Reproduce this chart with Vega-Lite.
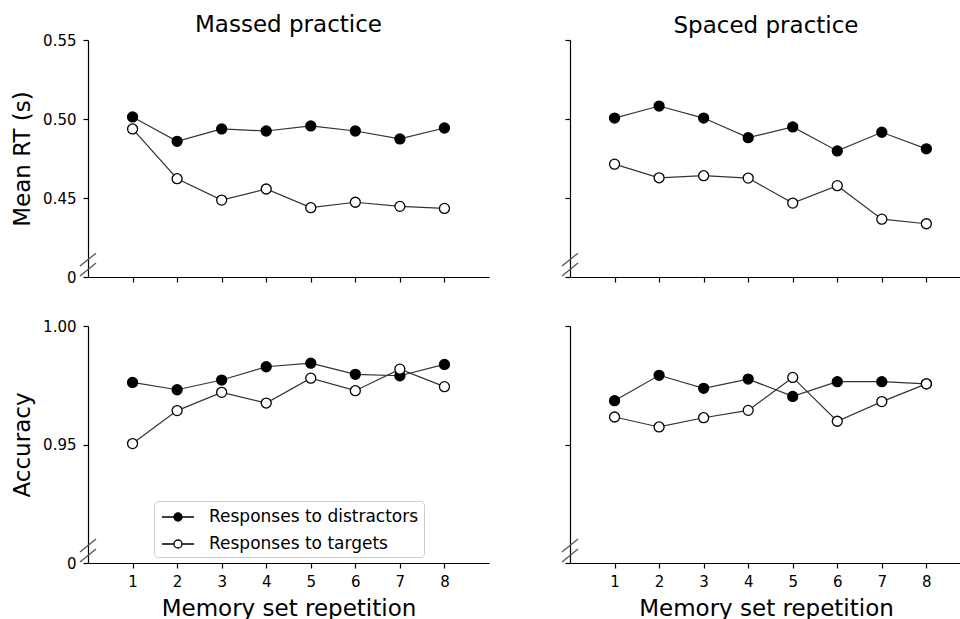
{
  "$schema": "https://vega.github.io/schema/vega-lite/v6.json",
  "padding": {"left": 11, "top": 14, "right": 0, "bottom": 0},
  "background": "white",
  "config": {
    "font": "DejaVu Sans",
    "view": {"stroke": null},
    "axis": {"domainColor": "black", "tickColor": "black", "labelColor": "black", "titleColor": "black", "grid": false, "labelFontSize": 15, "titleFontSize": 23, "titleFontWeight": "normal", "tickSize": 5, "domainWidth": 1.2, "tickWidth": 1.2, "labelFont": "DejaVu Sans", "titleFont": "DejaVu Sans"},
    "axisX": {"labelPadding": 6},
    "axisY": {"labelPadding": 7},
    "title": {"fontSize": 23, "fontWeight": "normal", "font": "DejaVu Sans", "color": "black"}
  },
  "datasets": {
    "d": [
      {"p": "Massed", "m": "RT", "s": "Responses to distractors", "rep": 1, "v": 0.5013},
      {"p": "Massed", "m": "RT", "s": "Responses to distractors", "rep": 2, "v": 0.4859},
      {"p": "Massed", "m": "RT", "s": "Responses to distractors", "rep": 3, "v": 0.4937},
      {"p": "Massed", "m": "RT", "s": "Responses to distractors", "rep": 4, "v": 0.4924},
      {"p": "Massed", "m": "RT", "s": "Responses to distractors", "rep": 5, "v": 0.4956},
      {"p": "Massed", "m": "RT", "s": "Responses to distractors", "rep": 6, "v": 0.4924},
      {"p": "Massed", "m": "RT", "s": "Responses to distractors", "rep": 7, "v": 0.4874},
      {"p": "Massed", "m": "RT", "s": "Responses to distractors", "rep": 8, "v": 0.4943},
      {"p": "Massed", "m": "RT", "s": "Responses to targets", "rep": 1, "v": 0.4937},
      {"p": "Massed", "m": "RT", "s": "Responses to targets", "rep": 2, "v": 0.4622},
      {"p": "Massed", "m": "RT", "s": "Responses to targets", "rep": 3, "v": 0.4487},
      {"p": "Massed", "m": "RT", "s": "Responses to targets", "rep": 4, "v": 0.4557},
      {"p": "Massed", "m": "RT", "s": "Responses to targets", "rep": 5, "v": 0.4439},
      {"p": "Massed", "m": "RT", "s": "Responses to targets", "rep": 6, "v": 0.4473},
      {"p": "Massed", "m": "RT", "s": "Responses to targets", "rep": 7, "v": 0.4447},
      {"p": "Massed", "m": "RT", "s": "Responses to targets", "rep": 8, "v": 0.4434},
      {"p": "Spaced", "m": "RT", "s": "Responses to distractors", "rep": 1, "v": 0.5006},
      {"p": "Spaced", "m": "RT", "s": "Responses to distractors", "rep": 2, "v": 0.5082},
      {"p": "Spaced", "m": "RT", "s": "Responses to distractors", "rep": 3, "v": 0.5006},
      {"p": "Spaced", "m": "RT", "s": "Responses to distractors", "rep": 4, "v": 0.4882},
      {"p": "Spaced", "m": "RT", "s": "Responses to distractors", "rep": 5, "v": 0.4950},
      {"p": "Spaced", "m": "RT", "s": "Responses to distractors", "rep": 6, "v": 0.4798},
      {"p": "Spaced", "m": "RT", "s": "Responses to distractors", "rep": 7, "v": 0.4916},
      {"p": "Spaced", "m": "RT", "s": "Responses to distractors", "rep": 8, "v": 0.4811},
      {"p": "Spaced", "m": "RT", "s": "Responses to targets", "rep": 1, "v": 0.4714},
      {"p": "Spaced", "m": "RT", "s": "Responses to targets", "rep": 2, "v": 0.4628},
      {"p": "Spaced", "m": "RT", "s": "Responses to targets", "rep": 3, "v": 0.4641},
      {"p": "Spaced", "m": "RT", "s": "Responses to targets", "rep": 4, "v": 0.4626},
      {"p": "Spaced", "m": "RT", "s": "Responses to targets", "rep": 5, "v": 0.4468},
      {"p": "Spaced", "m": "RT", "s": "Responses to targets", "rep": 6, "v": 0.4578},
      {"p": "Spaced", "m": "RT", "s": "Responses to targets", "rep": 7, "v": 0.4366},
      {"p": "Spaced", "m": "RT", "s": "Responses to targets", "rep": 8, "v": 0.4337},
      {"p": "Massed", "m": "Acc", "s": "Responses to distractors", "rep": 1, "v": 0.9762},
      {"p": "Massed", "m": "Acc", "s": "Responses to distractors", "rep": 2, "v": 0.9731},
      {"p": "Massed", "m": "Acc", "s": "Responses to distractors", "rep": 3, "v": 0.9772},
      {"p": "Massed", "m": "Acc", "s": "Responses to distractors", "rep": 4, "v": 0.9828},
      {"p": "Massed", "m": "Acc", "s": "Responses to distractors", "rep": 5, "v": 0.9843},
      {"p": "Massed", "m": "Acc", "s": "Responses to distractors", "rep": 6, "v": 0.9796},
      {"p": "Massed", "m": "Acc", "s": "Responses to distractors", "rep": 7, "v": 0.9790},
      {"p": "Massed", "m": "Acc", "s": "Responses to distractors", "rep": 8, "v": 0.9838},
      {"p": "Massed", "m": "Acc", "s": "Responses to targets", "rep": 1, "v": 0.9504},
      {"p": "Massed", "m": "Acc", "s": "Responses to targets", "rep": 2, "v": 0.9643},
      {"p": "Massed", "m": "Acc", "s": "Responses to targets", "rep": 3, "v": 0.9720},
      {"p": "Massed", "m": "Acc", "s": "Responses to targets", "rep": 4, "v": 0.9675},
      {"p": "Massed", "m": "Acc", "s": "Responses to targets", "rep": 5, "v": 0.9780},
      {"p": "Massed", "m": "Acc", "s": "Responses to targets", "rep": 6, "v": 0.9727},
      {"p": "Massed", "m": "Acc", "s": "Responses to targets", "rep": 7, "v": 0.9818},
      {"p": "Massed", "m": "Acc", "s": "Responses to targets", "rep": 8, "v": 0.9744},
      {"p": "Spaced", "m": "Acc", "s": "Responses to distractors", "rep": 1, "v": 0.9685},
      {"p": "Spaced", "m": "Acc", "s": "Responses to distractors", "rep": 2, "v": 0.9792},
      {"p": "Spaced", "m": "Acc", "s": "Responses to distractors", "rep": 3, "v": 0.9737},
      {"p": "Spaced", "m": "Acc", "s": "Responses to distractors", "rep": 4, "v": 0.9776},
      {"p": "Spaced", "m": "Acc", "s": "Responses to distractors", "rep": 5, "v": 0.9703},
      {"p": "Spaced", "m": "Acc", "s": "Responses to distractors", "rep": 6, "v": 0.9765},
      {"p": "Spaced", "m": "Acc", "s": "Responses to distractors", "rep": 7, "v": 0.9765},
      {"p": "Spaced", "m": "Acc", "s": "Responses to distractors", "rep": 8, "v": 0.9756},
      {"p": "Spaced", "m": "Acc", "s": "Responses to targets", "rep": 1, "v": 0.9616},
      {"p": "Spaced", "m": "Acc", "s": "Responses to targets", "rep": 2, "v": 0.9574},
      {"p": "Spaced", "m": "Acc", "s": "Responses to targets", "rep": 3, "v": 0.9613},
      {"p": "Spaced", "m": "Acc", "s": "Responses to targets", "rep": 4, "v": 0.9644},
      {"p": "Spaced", "m": "Acc", "s": "Responses to targets", "rep": 5, "v": 0.9783},
      {"p": "Spaced", "m": "Acc", "s": "Responses to targets", "rep": 6, "v": 0.9598},
      {"p": "Spaced", "m": "Acc", "s": "Responses to targets", "rep": 7, "v": 0.9681},
      {"p": "Spaced", "m": "Acc", "s": "Responses to targets", "rep": 8, "v": 0.9756}
    ]
  },
  "columns": 2,
  "spacing": {"row": 34, "column": 72},
  "resolve": {"scale": {"x": "independent", "y": "independent", "fill": "independent"}, "legend": {"fill": "independent"}},
  "concat": [
    {
      "title": {"text": "Massed practice", "offset": -4},
      "width": 401, "height": 237,
      "layer": [
        {
          "data": {"name": "d"},
          "transform": [{"filter": "datum.p === 'Massed' && datum.m === 'RT'"}],
          "mark": {"type": "line", "color": "#333", "strokeWidth": 1.2},
          "encoding": {
            "x": {"field": "rep", "type": "quantitative", "scale": {"domain": [0, 9], "nice": false}, "axis": {"values": [1,2,3,4,5,6,7,8], "labels": false, "title": null}},
            "y": {"field": "v", "type": "quantitative", "scale": {"domain": [0.40, 0.55], "zero": false, "nice": false}, "axis": {"values": [0.40, 0.45, 0.50, 0.55], "labelExpr": "datum.value < 0.41 ? '0' : format(datum.value, '.2f')", "title": "Mean RT (s)", "titlePadding": 8}},
            "detail": {"field": "s"}
          }
        },
        {
          "data": {"name": "d"},
          "transform": [{"filter": "datum.p === 'Massed' && datum.m === 'RT'"}],
          "mark": {"type": "point", "filled": true, "size": 100, "stroke": "black", "strokeWidth": 1.3, "opacity": 1},
          "encoding": {
            "x": {"field": "rep", "type": "quantitative"},
            "y": {"field": "v", "type": "quantitative"},
            "fill": {"field": "s", "type": "nominal", "scale": {"domain": ["Responses to distractors", "Responses to targets"], "range": ["black", "white"]}, "legend": null}
          }
        },
        {
          "data": {"values": [{}]},
          "mark": {"type": "rule", "color": "#555", "strokeWidth": 1.3},
          "encoding": {"x": {"datum": -0.18}, "x2": {"datum": 0.18}, "y": {"datum": 0.4006}, "y2": {"datum": 0.4088}}
        },
        {
          "data": {"values": [{}]},
          "mark": {"type": "rule", "color": "#555", "strokeWidth": 1.3},
          "encoding": {"x": {"datum": -0.18}, "x2": {"datum": 0.18}, "y": {"datum": 0.4069}, "y2": {"datum": 0.4151}}
        }
      ]
    },
    {
      "title": {"text": "Spaced practice", "offset": 1},
      "width": 392, "height": 237,
      "layer": [
        {
          "data": {"name": "d"},
          "transform": [{"filter": "datum.p === 'Spaced' && datum.m === 'RT'"}],
          "mark": {"type": "line", "color": "#333", "strokeWidth": 1.2},
          "encoding": {
            "x": {"field": "rep", "type": "quantitative", "scale": {"domain": [0, 8.8], "nice": false}, "axis": {"values": [1,2,3,4,5,6,7,8], "labels": false, "title": null}},
            "y": {"field": "v", "type": "quantitative", "scale": {"domain": [0.40, 0.55], "zero": false, "nice": false}, "axis": {"values": [0.40, 0.45, 0.50, 0.55], "labels": false, "title": null}},
            "detail": {"field": "s"}
          }
        },
        {
          "data": {"name": "d"},
          "transform": [{"filter": "datum.p === 'Spaced' && datum.m === 'RT'"}],
          "mark": {"type": "point", "filled": true, "size": 100, "stroke": "black", "strokeWidth": 1.3, "opacity": 1},
          "encoding": {
            "x": {"field": "rep", "type": "quantitative"},
            "y": {"field": "v", "type": "quantitative"},
            "fill": {"field": "s", "type": "nominal", "scale": {"domain": ["Responses to distractors", "Responses to targets"], "range": ["black", "white"]}, "legend": null}
          }
        },
        {
          "data": {"values": [{}]},
          "mark": {"type": "rule", "color": "#555", "strokeWidth": 1.3},
          "encoding": {"x": {"datum": -0.18}, "x2": {"datum": 0.18}, "y": {"datum": 0.4006}, "y2": {"datum": 0.4088}}
        },
        {
          "data": {"values": [{}]},
          "mark": {"type": "rule", "color": "#555", "strokeWidth": 1.3},
          "encoding": {"x": {"datum": -0.18}, "x2": {"datum": 0.18}, "y": {"datum": 0.4069}, "y2": {"datum": 0.4151}}
        }
      ]
    },
    {
      "width": 401, "height": 237,
      "layer": [
        {
          "data": {"name": "d"},
          "transform": [{"filter": "datum.p === 'Massed' && datum.m === 'Acc'"}],
          "mark": {"type": "line", "color": "#333", "strokeWidth": 1.2},
          "encoding": {
            "x": {"field": "rep", "type": "quantitative", "scale": {"domain": [0, 9], "nice": false}, "axis": {"values": [1,2,3,4,5,6,7,8], "title": "Memory set repetition", "titlePadding": 8}},
            "y": {"field": "v", "type": "quantitative", "scale": {"domain": [0.90, 1.00], "zero": false, "nice": false}, "axis": {"values": [0.90, 0.95, 1.00], "labelExpr": "datum.value < 0.91 ? '0' : format(datum.value, '.2f')", "title": "Accuracy", "titlePadding": 8}},
            "detail": {"field": "s"}
          }
        },
        {
          "data": {"name": "d"},
          "transform": [{"filter": "datum.p === 'Massed' && datum.m === 'Acc'"}],
          "mark": {"type": "point", "filled": true, "size": 100, "stroke": "black", "strokeWidth": 1.3, "opacity": 1},
          "encoding": {
            "x": {"field": "rep", "type": "quantitative"},
            "y": {"field": "v", "type": "quantitative"},
            "fill": {"field": "s", "type": "nominal", "scale": {"domain": ["Responses to distractors", "Responses to targets"], "range": ["black", "white"]},
              "legend": {"orient": "none", "legendX": 66, "legendY": 175, "title": null, "symbolType": "M-1.6,0L-0.4,0M0.4,0L1.6,0M-0.4,0A0.4,0.4,0,1,1,0.4,0A0.4,0.4,0,1,1,-0.4,0Z", "symbolSize": 400, "symbolOffset": 8, "symbolStrokeColor": "black", "symbolStrokeWidth": 1.3, "labelFontSize": 17, "labelFont": "DejaVu Sans", "labelColor": "black", "labelLimit": 400, "strokeColor": "#ccc", "fillColor": "white", "padding": 5, "cornerRadius": 4, "rowPadding": 8, "labelOffset": 20}}
          }
        },
        {
          "data": {"values": [{}]},
          "mark": {"type": "rule", "color": "#555", "strokeWidth": 1.3},
          "encoding": {"x": {"datum": -0.18}, "x2": {"datum": 0.18}, "y": {"datum": 0.90042}, "y2": {"datum": 0.90588}}
        },
        {
          "data": {"values": [{}]},
          "mark": {"type": "rule", "color": "#555", "strokeWidth": 1.3},
          "encoding": {"x": {"datum": -0.18}, "x2": {"datum": 0.18}, "y": {"datum": 0.90462}, "y2": {"datum": 0.91008}}
        }
      ]
    },
    {
      "width": 392, "height": 237,
      "layer": [
        {
          "data": {"name": "d"},
          "transform": [{"filter": "datum.p === 'Spaced' && datum.m === 'Acc'"}],
          "mark": {"type": "line", "color": "#333", "strokeWidth": 1.2},
          "encoding": {
            "x": {"field": "rep", "type": "quantitative", "scale": {"domain": [0, 8.8], "nice": false}, "axis": {"values": [1,2,3,4,5,6,7,8], "title": "Memory set repetition", "titlePadding": 8}},
            "y": {"field": "v", "type": "quantitative", "scale": {"domain": [0.90, 1.00], "zero": false, "nice": false}, "axis": {"values": [0.90, 0.95, 1.00], "labels": false, "title": null}},
            "detail": {"field": "s"}
          }
        },
        {
          "data": {"name": "d"},
          "transform": [{"filter": "datum.p === 'Spaced' && datum.m === 'Acc'"}],
          "mark": {"type": "point", "filled": true, "size": 100, "stroke": "black", "strokeWidth": 1.3, "opacity": 1},
          "encoding": {
            "x": {"field": "rep", "type": "quantitative"},
            "y": {"field": "v", "type": "quantitative"},
            "fill": {"field": "s", "type": "nominal", "scale": {"domain": ["Responses to distractors", "Responses to targets"], "range": ["black", "white"]}, "legend": null}
          }
        },
        {
          "data": {"values": [{}]},
          "mark": {"type": "rule", "color": "#555", "strokeWidth": 1.3},
          "encoding": {"x": {"datum": -0.18}, "x2": {"datum": 0.18}, "y": {"datum": 0.90042}, "y2": {"datum": 0.90588}}
        },
        {
          "data": {"values": [{}]},
          "mark": {"type": "rule", "color": "#555", "strokeWidth": 1.3},
          "encoding": {"x": {"datum": -0.18}, "x2": {"datum": 0.18}, "y": {"datum": 0.90462}, "y2": {"datum": 0.91008}}
        }
      ]
    }
  ]
}
